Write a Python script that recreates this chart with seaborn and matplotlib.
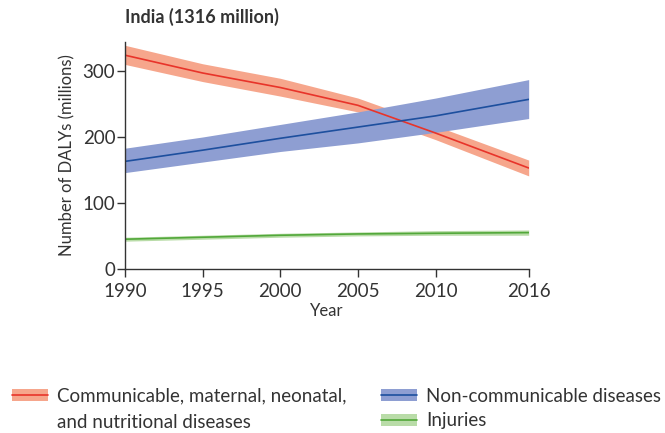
import matplotlib
matplotlib.use("Agg")
import matplotlib.pyplot as plt
from matplotlib.patches import Patch
from matplotlib.lines import Line2D
import pandas as pd
import seaborn as sns

sns.set_style("white")
plt.rcParams['font.family'] = ['Lato', 'DejaVu Sans']

years = [1990, 1995, 2000, 2005, 2010, 2016]

cmnn = [324, 297, 275, 248, 206, 153]
cmnn_lo = [310, 284, 262, 238, 196, 141]
cmnn_hi = [339, 311, 289, 259, 217, 165]

ncd = [163, 180, 198, 215, 232, 257]
ncd_lo = [146, 162, 178, 191, 207, 228]
ncd_hi = [183, 200, 219, 238, 259, 287]

inj = [45, 48, 51, 53, 54, 55]
inj_lo = [42, 45, 48, 50, 51, 51]
inj_hi = [48, 51, 54, 56, 58, 59]

labels = ["Communicable, maternal, neonatal,\nand nutritional diseases",
          "Non-communicable diseases", "Injuries"]
line_cols = ["#e8342a", "#1d4f9e", "#52a83a"]
band_cols = ["#f6a68c", "#8e9ed2", "#b9dca8"]
txt = "#333333"

rows = []
for name, vals in zip(labels, [cmnn, ncd, inj]):
    for y, v in zip(years, vals):
        rows.append({"Year": y, "DALYs": v, "Cause": name})
df = pd.DataFrame(rows)

fig = plt.figure(figsize=(6.65, 4.33), dpi=100)
ax = fig.add_axes([0.188, 0.379, 0.607, 0.524])

for lo, hi, c in zip([cmnn_lo, ncd_lo, inj_lo], [cmnn_hi, ncd_hi, inj_hi], band_cols):
    ax.fill_between(years, lo, hi, color=c, lw=0)

sns.lineplot(data=df, x="Year", y="DALYs", hue="Cause", hue_order=labels,
             palette=line_cols, lw=1.2, legend=False, ax=ax)

ax.set_xlim(1990, 2016)
ax.set_ylim(0, 344)
ax.set_xticks(years)
ax.set_yticks([0, 100, 200, 300])
ax.tick_params(axis="both", direction="out", length=6, width=1, color=txt,
               labelsize=13.5, labelcolor=txt, left=True, bottom=True)
ax.tick_params(axis="x", pad=4)
ax.tick_params(axis="y", pad=1)
sns.despine(ax=ax)
for s in ["left", "bottom"]:
    ax.spines[s].set_color(txt)
    ax.spines[s].set_linewidth(1)
ax.set_xlabel("Year", fontsize=12, color=txt, labelpad=2)
ax.set_ylabel("Number of DALYs (millions)", fontsize=12, color=txt, labelpad=5)
ax.set_title("India (1316 million)", fontsize=13, fontweight="bold", color=txt,
             loc="left", x=0.0, pad=14)


def handle(i):
    return (Patch(facecolor=band_cols[i], edgecolor="none"),
            Line2D([], [], color=line_cols[i], lw=1.2))


leg_kw = dict(frameon=False, fontsize=13.5, handlelength=1.9, handleheight=0.65,
              handletextpad=0.5, borderpad=0, borderaxespad=0, labelspacing=0.42,
              labelcolor=txt, loc="center left")
fig.legend([handle(0)], ["Communicable, maternal, neonatal,"],
           bbox_to_anchor=(0.018, 1 - 396 / 433), **leg_kw)
fig.text(57 / 665, 1 - 428 / 433, "and nutritional diseases", fontsize=13.5, color=txt,
         va="baseline")
fig.legend([handle(1), handle(2)], labels[1:],
           bbox_to_anchor=(381 / 665, 1 - 408.5 / 433), **leg_kw)

fig.savefig("out.png", dpi=100)
